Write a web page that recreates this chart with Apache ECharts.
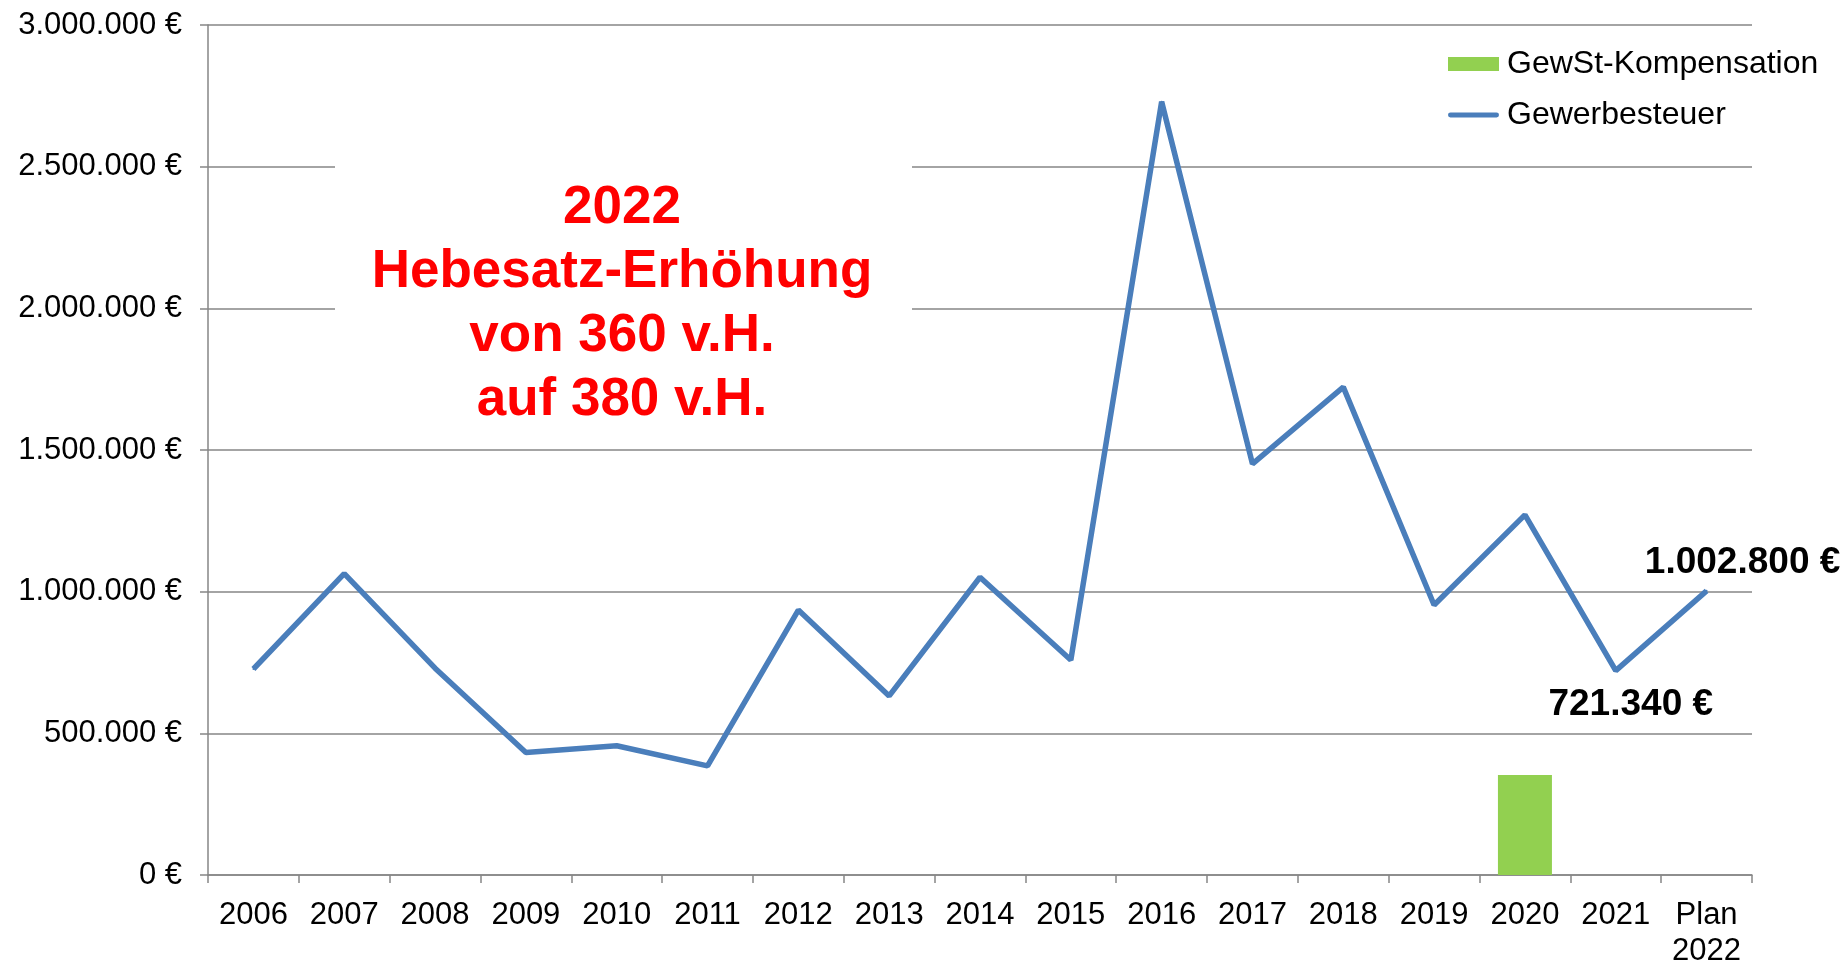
<!doctype html>
<html>
	<head>
		<meta charset="UTF-8">
		<title>Gewerbesteuer</title>
		<style>
			html, body { margin: 0; padding: 0; background: #fff; }
			#chart { width: 1846px; height: 962px; }
		</style>
	</head>
	<body>
		<div id="chart"></div>
		<script src="https://cdn.jsdelivr.net/npm/echarts@6/dist/echarts.min.js"></script>
		<script>
			// Jahre (x-Achse)
			var years = ['2006', '2007', '2008', '2009', '2010', '2011', '2012', '2013', '2014',
				'2015', '2016', '2017', '2018', '2019', '2020', '2021', 'Plan\n2022'];
			// Gewerbesteuer (Linie)
			var gewerbesteuer = [727000, 1064000, 730000, 432000, 456000, 385000, 935000, 632000, 1051000,
				759000, 2729000, 1451000, 1722000, 953000, 1271000, 721340, 1002800];
			// GewSt-Kompensation (Säule), nur 2020
			var kompensation = [null, null, null, null, null, null, null, null, null,
				null, null, null, null, null, 353000, null, null];
			// y-Achse
			var yMin = 0, yMax = 3000000, yStep = 500000;
			var hinweis = ['2022', 'Hebesatz-Erhöhung', 'von 360 v.H.', 'auf 380 v.H.'];

			var font = '"Liberation Sans", Arial, sans-serif';

			function euro(v) {
				var s = Math.round(v).toString().replace(/\B(?=(\d{3})+(?!\d))/g, '.');
				return s + ' €';
			}

			// Datenpunkte mit Beschriftung für 2021 und Plan 2022
			var lineData = gewerbesteuer.map(function(v, i) {
				var item = { value: v };
				if (i == 15) {
					item.label = { show: true, position: 'bottom', distance: 5, offset: [15, 10] };
				} else if (i == 16) {
					item.label = { show: true, position: 'top', distance: 5, offset: [36, -4] };
				}
				return item;
			});

			var myChart = echarts.init(document.getElementById('chart'));
			var option = {
				backgroundColor: '#fff',
				animation: false,
				textStyle: { fontFamily: font },
				grid: { left: 208, right: 94, top: 25, bottom: 87, containLabel: false, outerBoundsMode: 'none' },
				legend: {
					orient: 'vertical',
					left: 1443,
					top: 43,
					itemWidth: 51,
					itemHeight: 14,
					itemGap: 19,
					data: [
						{ name: 'GewSt-Kompensation', icon: 'rect' },
						{ name: 'Gewerbesteuer', icon: 'path://M2,0H49A2,2 0 0 1 49,5H2A2,2 0 0 1 2,0Z' }
					],
					textStyle: { fontFamily: font, fontSize: 32, color: '#000', padding: [0, 0, 0, 3] }
				},
				xAxis: {
					type: 'category',
					data: years,
					boundaryGap: true,
					axisLine: { lineStyle: { color: '#868686', width: 1.5 } },
					axisTick: { show: true, length: 8, lineStyle: { color: '#868686', width: 1.5 } },
					axisLabel: { fontFamily: font, fontSize: 31, color: '#000', margin: 22, lineHeight: 36, interval: 0 }
				},
				yAxis: {
					type: 'value',
					min: yMin,
					max: yMax,
					interval: yStep,
					axisLine: { show: true, lineStyle: { color: '#868686', width: 1.5 } },
					axisTick: { show: true, length: 8, lineStyle: { color: '#868686', width: 1.5 } },
					splitLine: { show: true, lineStyle: { color: '#868686', width: 1.5 } },
					axisLabel: {
						fontFamily: font, fontSize: 31, color: '#000', margin: 26,
						formatter: function(v) { return euro(v); }
					}
				},
				series: [{
					name: 'GewSt-Kompensation',
					type: 'bar',
					data: kompensation,
					barWidth: 54,
					itemStyle: { color: '#92D050' }
				}, {
					name: 'Gewerbesteuer',
					type: 'line',
					data: lineData,
					symbol: 'circle',
					symbolSize: 2,
					showSymbol: true,
					color: '#4A7EBB',
					lineStyle: { color: '#4A7EBB', width: 5.5 },
					itemStyle: { color: '#4A7EBB' },
					label: {
						show: false,
						fontFamily: font,
						fontSize: 37,
						fontWeight: 'bold',
						color: '#000',
						formatter: function(p) { return euro(p.value); }
					},
					z: 3
				}],
				graphic: [{
					type: 'rect',
					shape: { x: 335, y: 150, width: 577, height: 280 },
					style: { fill: '#fff' },
					z: 1
				}, {
					type: 'text',
					x: 622,
					y: 304,
					style: {
						text: hinweis.join('\n'),
						fontFamily: font,
						fontSize: 53,
						fontWeight: 'bold',
						lineHeight: 64,
						fill: '#FF0000',
						align: 'center',
						verticalAlign: 'middle'
					},
					z: 2
				}]
			};
			myChart.setOption(option);
		</script>
	</body>
</html>
